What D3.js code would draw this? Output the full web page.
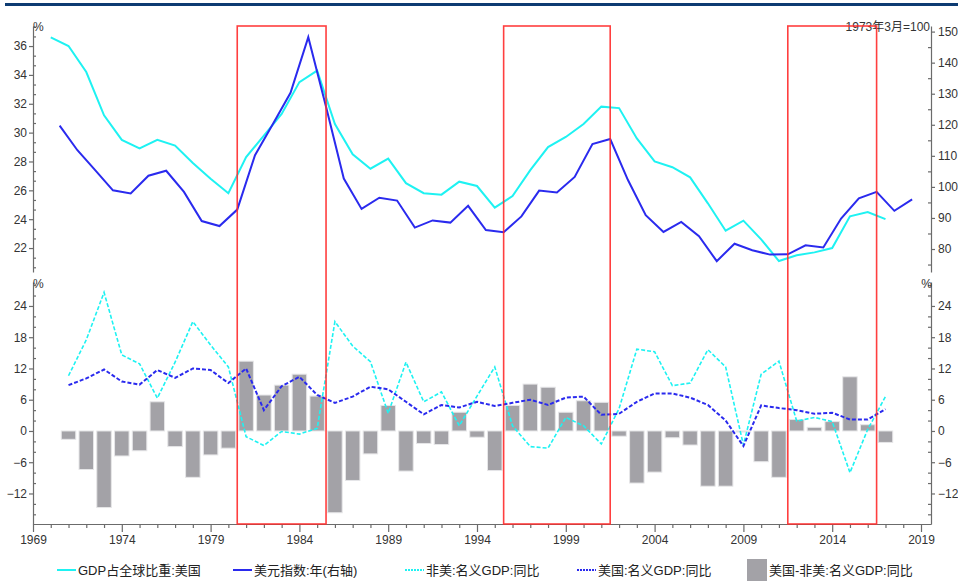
<!DOCTYPE html>
<html><head><meta charset="utf-8">
<script src="https://cdn.jsdelivr.net/npm/d3@7"></script>
<style>
body{margin:0;background:#fff}
svg{display:block}
text{font-family:"Liberation Sans","Noto Sans CJK SC",sans-serif;}
</style>
</head><body>
<svg id="c" width="958" height="587"></svg>
<script>
// ---------- DATA ----------
// GDP share of world: USA (%), annual
const shareYears = [1970,1971,1972,1973,1974,1975,1976,1977,1978,1979,1980,1981,1982,1983,1984,1985,1986,1987,1988,1989,1990,1991,1992,1993,1994,1995,1996,1997,1998,1999,2000,2001,2002,2003,2004,2005,2006,2007,2008,2009,2010,2011,2012,2013,2014,2015,2016,2017];
const gdpShareUS = [36.6,36.0,34.2,31.2,29.5,28.9,29.5,29.1,27.9,26.8,25.8,28.3,29.8,31.3,33.5,34.3,30.6,28.5,27.5,28.2,26.5,25.8,25.7,26.6,26.3,24.8,25.6,27.4,29.0,29.7,30.6,31.8,31.7,29.6,28.0,27.6,26.9,25.1,23.2,23.9,22.6,21.1,21.5,21.7,22.0,24.2,24.5,24.0];
// Dollar index, annual (March 1973 = 100), plotted mid-year, right axis
const dollarYears = [1970,1971,1972,1973,1974,1975,1976,1977,1978,1979,1980,1981,1982,1983,1984,1985,1986,1987,1988,1989,1990,1991,1992,1993,1994,1995,1996,1997,1998,1999,2000,2001,2002,2003,2004,2005,2006,2007,2008,2009,2010,2011,2012,2013,2014,2015,2016,2017,2018];
const dollarIndex = [119.7,111.8,105.4,98.9,97.9,103.6,105.2,98.4,89.0,87.4,92.7,110.2,120.2,130.3,148.2,125.8,102.7,92.9,96.5,95.6,86.9,89.2,88.5,93.9,86.1,85.4,90.5,98.8,98.2,103.2,113.8,115.4,102.2,90.9,85.5,88.7,84.1,76.1,81.7,79.6,78.2,78.3,81.2,80.5,89.8,96.3,98.4,92.3,96.0];
// Nominal GDP growth YoY (%)
const yoyYears = [1971,1972,1973,1974,1975,1976,1977,1978,1979,1980,1981,1982,1983,1984,1985,1986,1987,1988,1989,1990,1991,1992,1993,1994,1995,1996,1997,1998,1999,2000,2001,2002,2003,2004,2005,2006,2007,2008,2009,2010,2011,2012,2013,2014,2015,2016,2017];
const nonUSYoy = [10.6,17.5,26.6,14.6,12.9,6.3,13.2,21.0,16.5,12.3,-1.1,-2.8,-0.1,-0.6,0.5,21.0,16.3,13.3,3.4,13.2,5.6,7.5,1.0,6.7,12.3,1.0,-3.0,-3.3,2.6,1.0,-2.5,4.3,15.7,15.2,8.7,9.2,15.6,12.3,-2.7,10.9,13.4,1.9,2.6,1.8,-8.0,0.3,6.6];
const usYoy = [8.8,10.1,11.8,9.5,8.9,11.7,10.2,12.0,11.7,9.2,12.0,4.0,8.6,10.4,6.9,5.4,6.6,8.5,8.0,5.6,3.2,5.0,4.5,5.6,4.8,5.4,6.0,5.0,6.4,6.6,3.1,3.3,5.6,7.2,7.2,6.4,5.0,2.0,-2.9,4.9,4.4,4.0,3.3,3.5,2.2,2.2,4.2];
const diffYoy = [-1.6,-7.4,-14.7,-4.8,-3.8,5.6,-3.0,-8.9,-4.6,-3.3,13.4,6.9,8.8,10.9,6.7,-15.7,-9.5,-4.4,4.9,-7.7,-2.4,-2.6,3.6,-1.2,-7.6,4.9,9.0,8.4,3.6,5.8,5.5,-1.0,-10.0,-7.9,-1.3,-2.7,-10.6,-10.6,-0.2,-5.9,-8.9,2.2,0.7,1.8,10.4,1.2,-2.2];
// Highlighted periods
const periodStart = [1980.5,1995.5,2011.5];
const periodEnd   = [1985.5,2001.5,2016.5];
// Tick values
const xTicks = [1969,1974,1979,1984,1989,1994,1999,2004,2009,2014,2019];
const leftTopTicks = [22,24,26,28,30,32,34,36];
const rightTopTicks = [80,90,100,110,120,130,140,150];
const bottomTicks = [-12,-6,0,6,12,18,24];
const legendLabels = ["GDP占全球比重:美国","美元指数:年(右轴)","非美:名义GDP:同比","美国:名义GDP:同比","美国-非美:名义GDP:同比"];

// ---------- COLORS ----------
const CYAN = "#1ef2f2", BLUE = "#2a2aee", BAR = "#a3a2a7", RED = "#ff2a2a", AXIS = "#6b6b6b", TXT = "#333";

const svg = d3.select("#c");
svg.append("rect").attr("width",958).attr("height",587).attr("fill","#fff");
svg.append("rect").attr("x",5).attr("y",3).attr("width",953).attr("height",3).attr("fill","#0d3b72");

// ---------- SCALES ----------
const x = d3.scaleLinear().domain([1969,2019]).range([33,921]);
const xAx = x.copy().domain([1969, x.invert(931)]).range([33,931]);
const yL = d3.scaleLinear().domain([20.34,37.39]).range([272,26]);
const yR = d3.scaleLinear().domain([72.6,151.8]).range([272,26]);
const yB = d3.scaleLinear().domain([-17.86,28.6]).range([524,282]);

function styleAxis(g){
  g.selectAll("path.domain").attr("stroke",AXIS).attr("stroke-width",1.2);
  g.selectAll(".tick line").attr("stroke",AXIS).attr("stroke-width",1.2);
  g.selectAll(".tick text").attr("fill",TXT).attr("font-size",12);
}
function minor(vals, dom, step){
  return vals;
}
const eps = 1e-6;
// left top axis
const lt = svg.append("g").attr("transform","translate(33,0)")
  .call(d3.axisLeft(yL).tickValues(leftTopTicks).tickSize(4).tickSizeOuter(0).tickPadding(2).tickFormat(d3.format("d")));
styleAxis(lt);
const ltMinor = d3.range(20+2/3, 37.39, 2/3).filter(v => Math.abs(v/2 - Math.round(v/2)) > 0.01);
svg.append("g").attr("transform","translate(33,0)")
  .call(d3.axisRight(yL).tickValues(ltMinor).tickSize(3).tickFormat(""))
  .call(g=>g.select("path.domain").remove()).call(styleAxis);
// right top axis
const rt = svg.append("g").attr("transform","translate(931,0)")
  .call(d3.axisRight(yR).tickValues(rightTopTicks).tickSize(4).tickSizeOuter(0).tickPadding(3));
styleAxis(rt);
svg.append("g").attr("transform","translate(931,0)")
  .call(d3.axisLeft(yR).tickValues([75,85,95,105,115,125,135,145]).tickSize(3).tickFormat(""))
  .call(g=>g.select("path.domain").remove()).call(styleAxis);
// bottom left / right axes
const bl = svg.append("g").attr("transform","translate(33,0)")
  .call(d3.axisLeft(yB).tickValues(bottomTicks).tickSize(4).tickSizeOuter(0).tickPadding(2));
styleAxis(bl);
const bMinor = d3.range(-16, 29, 2).filter(v => v % 6 !== 0);
svg.append("g").attr("transform","translate(33,0)")
  .call(d3.axisRight(yB).tickValues(bMinor).tickSize(3).tickFormat(""))
  .call(g=>g.select("path.domain").remove()).call(styleAxis);
const br = svg.append("g").attr("transform","translate(931,0)")
  .call(d3.axisRight(yB).tickValues(bottomTicks).tickSize(4).tickSizeOuter(0).tickPadding(3));
styleAxis(br);
svg.append("g").attr("transform","translate(931,0)")
  .call(d3.axisLeft(yB).tickValues(bMinor).tickSize(3).tickFormat(""))
  .call(g=>g.select("path.domain").remove()).call(styleAxis);
// x axis
const xa = svg.append("g").attr("transform","translate(0,524)")
  .call(d3.axisBottom(xAx).tickValues(xTicks).tickSize(8).tickSizeOuter(0).tickPadding(3).tickFormat(d3.format("d")));
styleAxis(xa);
const xMinor = d3.range(1970, 2020).filter(v => (v-1969) % 5 !== 0);
svg.append("g").attr("transform","translate(0,524)")
  .call(d3.axisBottom(xAx).tickValues(xMinor).tickSize(4).tickFormat(""))
  .call(g=>g.select("path.domain").remove()).call(styleAxis);

// unit labels
svg.append("text").attr("x",33).attr("y",31).attr("font-size",12).attr("fill",TXT).text("%");
svg.append("text").attr("x",33).attr("y",288).attr("font-size",12).attr("fill",TXT).text("%");
svg.append("text").attr("x",932).attr("y",288).attr("text-anchor","end").attr("font-size",12).attr("fill",TXT).text("%");

// ---------- BARS ----------
const bw = 14.5;
svg.append("g").selectAll("rect").data(yoyYears).join("rect")
  .attr("x", (d)=> x(d)-bw/2)
  .attr("y", (d,i)=> yB(Math.max(0,diffYoy[i])))
  .attr("width", bw)
  .attr("height", (d,i)=> Math.abs(yB(diffYoy[i])-yB(0)))
  .attr("fill", BAR).attr("stroke","#e6e6e8").attr("stroke-width",1);

// ---------- LINES ----------
const lineB = (arr)=> d3.line().x((d)=>x(d)).y((d,i)=>yB(arr[i]));
svg.append("path").datum(yoyYears).attr("d", lineB(nonUSYoy))
  .attr("fill","none").attr("stroke",CYAN).attr("stroke-width",1.6).attr("stroke-dasharray","4,2");
svg.append("path").datum(yoyYears).attr("d", lineB(usYoy))
  .attr("fill","none").attr("stroke",BLUE).attr("stroke-width",2).attr("stroke-dasharray","4,2");

svg.append("path").datum(shareYears)
  .attr("d", d3.line().x(d=>x(d)).y((d,i)=>yL(gdpShareUS[i])))
  .attr("fill","none").attr("stroke",CYAN).attr("stroke-width",2);
svg.append("path").datum(dollarYears)
  .attr("d", d3.line().x(d=>x(d+0.5)).y((d,i)=>yR(dollarIndex[i])))
  .attr("fill","none").attr("stroke",BLUE).attr("stroke-width",2);

// right-axis note
svg.append("text").attr("x",930).attr("y",31).attr("text-anchor","end").attr("font-size",12).attr("fill",TXT).text("1973年3月=100");

// ---------- HIGHLIGHT BOXES ----------
svg.append("g").selectAll("rect").data(periodStart).join("rect")
  .attr("x", d=>x(d)).attr("y",26)
  .attr("width",(d,i)=>x(periodEnd[i])-x(d)).attr("height",524-26)
  .attr("fill","none").attr("stroke",RED).attr("stroke-width",1.6).attr("opacity",0.9);

// ---------- LEGEND ----------
const lg = svg.append("g").attr("font-size",13).attr("fill","#222");
const ly = 570;
const lgItems = [
  {x:57, type:"line", color:CYAN, dash:null},
  {x:233, type:"line", color:BLUE, dash:null},
  {x:405, type:"line", color:CYAN, dash:"2,1"},
  {x:577, type:"line", color:BLUE, dash:"2,1"},
  {x:747, type:"box", color:BAR}
];
lgItems.forEach((it,i)=>{
  if(it.type==="line"){
    lg.append("line").attr("x1",it.x).attr("x2",it.x+19).attr("y1",ly).attr("y2",ly)
      .attr("stroke",it.color).attr("stroke-width",2).attr("stroke-dasharray",it.dash);
    lg.append("text").attr("x",it.x+21).attr("y",ly+4.5).text(legendLabels[i]);
  } else {
    lg.append("rect").attr("x",it.x).attr("y",ly-11).attr("width",20).attr("height",22).attr("fill",it.color);
    lg.append("text").attr("x",it.x+22).attr("y",ly+4.5).text(legendLabels[i]);
  }
});
</script>
</body></html>
